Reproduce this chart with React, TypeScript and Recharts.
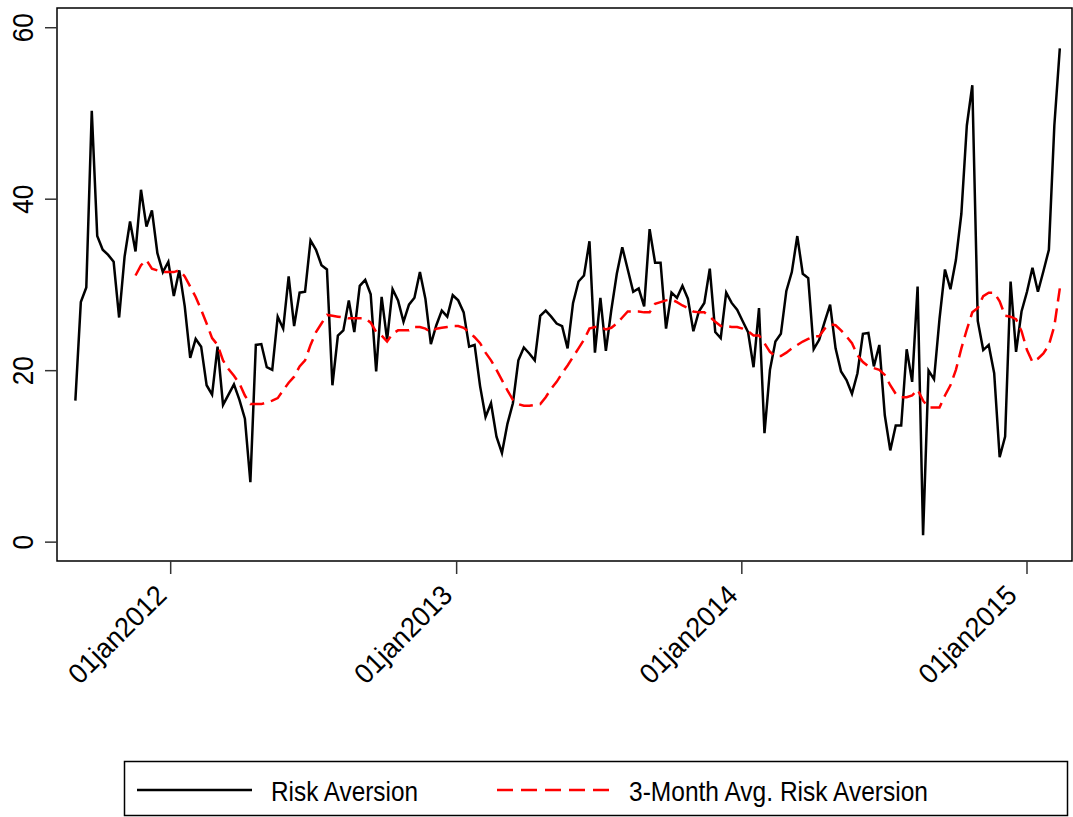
import { LineChart, Line, XAxis, YAxis, ReferenceArea } from 'recharts';

const DAY = 86400000;
const FONT = '"Liberation Sans", Arial, sans-serif';

// weekly observations, first one on 01sep2011
const startDate = Date.UTC(2011, 8, 1);

const riskAversion = [
    16.5, 28.0, 29.7, 50.3, 35.7, 34.1, 33.5, 32.7, 26.2, 33.3,
    37.4, 33.9, 41.1, 36.8, 38.7, 33.7, 31.5, 32.7, 28.7, 31.7,
    27.5, 21.5, 23.7, 22.8, 18.3, 17.2, 22.8, 16.0, 17.2, 18.4,
    16.6, 14.4, 7.0, 23.0, 23.1, 20.4, 20.1, 26.3, 24.9, 31.0,
    25.2, 29.1, 29.2, 35.2, 34.1, 32.3, 31.8, 18.3, 24.1, 24.7,
    28.2, 24.5, 29.9, 30.6, 28.9, 19.9, 28.6, 23.6, 29.5, 28.2,
    25.7, 27.7, 28.5, 31.5, 28.4, 23.1, 25.3, 27.0, 26.3, 28.8,
    28.2, 26.8, 22.8, 23.0, 18.2, 14.6, 16.2, 12.3, 10.4, 13.8,
    16.2, 21.2, 22.7, 22.0, 21.2, 26.4, 27.0, 26.3, 25.5, 25.2,
    22.6, 27.9, 30.4, 31.1, 35.1, 22.1, 28.5, 22.3, 27.1, 31.3,
    34.4, 31.8, 29.2, 29.6, 27.5, 36.5, 32.6, 32.6, 24.9, 29.1,
    28.5, 29.9, 28.4, 24.6, 26.9, 27.9, 31.9, 24.5, 23.8, 29.1,
    27.9, 27.1, 25.8, 24.5, 20.4, 27.3, 12.7, 20.1, 23.4, 24.3,
    29.3, 31.5, 35.7, 31.3, 30.8, 22.5, 23.6, 25.7, 27.7, 22.6,
    19.9, 18.9, 17.3, 19.7, 24.3, 24.4, 20.5, 23.0, 14.8, 10.7,
    13.6, 13.6, 22.5, 18.7, 29.8, 0.8, 20.0, 19.0, 26.0, 31.8,
    29.5, 32.9, 38.3, 48.6, 53.3, 25.8, 22.4, 23.0, 19.7, 9.9,
    12.3, 30.4, 22.2, 26.9, 29.2, 32.0, 29.2, 31.6, 34.1, 48.6,
    57.6,
];

const avgRiskAversion = [
    null, null, null, null, null, null, null, null, null, null,
    null, 31.1, 32.3, 32.9, 31.9, 31.7, 31.5, 31.5, 31.5, 31.7,
    31.0, 29.8, 28.6, 27.1, 25.5, 23.8, 23.0, 21.2, 20.2, 19.4,
    18.5, 17.1, 16.1, 16.1, 16.1, 16.3, 16.5, 16.8, 17.7, 18.6,
    19.3, 20.5, 21.2, 23.0, 24.5, 25.5, 26.5, 26.4, 26.3, 26.2,
    26.1, 26.1, 26.1, 26.1, 25.6, 24.5, 24.1, 23.4, 24.3, 24.7,
    24.7, 24.7, 25.1, 25.1, 24.9, 24.5, 24.9, 25.0, 25.1, 25.2,
    25.2, 25.0, 24.5, 23.9, 23.2, 22.1, 21.2, 20.1, 18.9, 17.7,
    16.6, 16.1, 15.9, 15.9, 16.0, 16.1, 16.9, 17.9, 18.7, 19.7,
    20.6, 21.6, 22.6, 23.6, 24.9, 25.1, 25.1, 24.8, 25.0, 25.5,
    26.2, 26.9, 26.9, 26.9, 26.8, 26.8, 27.8, 28.0, 28.2, 28.3,
    28.0, 27.6, 27.3, 26.9, 26.8, 26.8, 26.3, 25.7, 25.2, 25.2,
    25.1, 25.1, 24.9, 24.6, 24.1, 24.1, 23.2, 22.2, 21.7, 21.7,
    22.1, 22.6, 23.0, 23.4, 23.7, 24.0, 24.0, 24.9, 25.4, 25.3,
    24.7, 24.0, 23.2, 21.8, 21.0, 20.5, 20.3, 20.1, 19.5, 18.3,
    17.3, 16.9, 16.9, 17.1, 17.8, 16.5, 15.7, 15.7, 15.7, 17.1,
    18.3, 20.1, 22.6, 24.8, 26.8, 27.3, 28.7, 29.1, 29.1, 28.1,
    26.4, 26.3, 26.0, 24.6, 22.4, 21.0, 21.4, 22.0, 23.0, 25.2,
    29.6,
];

const tickYears = [2012, 2013, 2014, 2015];
const tickLabels = ['01jan2012', '01jan2013', '01jan2014', '01jan2015'];
const yTicks = [0, 20, 40, 60];

const data = riskAversion.map((v, i) => ({
    date: startDate + i * 7 * DAY,
    risk: v,
    avg: avgRiskAversion[i],
}));

const xTicks = tickYears.map((y) => Date.UTC(y, 0, 1));
const jan2012 = Date.UTC(2012, 0, 1);
const xDomain = [jan2012 - 145.5 * DAY, jan2012 + 1153.6 * DAY];
const yDomain = [-2.2, 62.3];

function XTick({ x, payload }: any) {
    const label = tickLabels[xTicks.indexOf(payload.value)];
    const tx = x - 2.5;
    const ty = 597;
    return (
        <text
            x={tx}
            y={ty}
            transform={`rotate(-45 ${tx} ${ty})`}
            textAnchor="end"
            fontSize={28}
            fontFamily={FONT}
            fill="#000"
            textLength={125}
            lengthAdjust="spacingAndGlyphs"
        >
            {label}
        </text>
    );
}

function YTick({ y, payload }: any) {
    const s = String(payload.value);
    const tx = 33;
    return (
        <text
            x={tx}
            y={y}
            transform={`rotate(-90 ${tx} ${y})`}
            textAnchor="middle"
            fontSize={30}
            fontFamily={FONT}
            fill="#000"
            textLength={14.5 * s.length}
            lengthAdjust="spacingAndGlyphs"
        >
            {s}
        </text>
    );
}

function LegendBox() {
    return (
        <svg
            width={1073}
            height={817}
            style={{ position: 'absolute', left: 0, top: 0, pointerEvents: 'none' }}
        >
            <rect x={124.5} y={761.5} width={943} height={54} fill="none" stroke="#000" strokeWidth={1.5} />
            <line x1={137} y1={790} x2={252} y2={790} stroke="#000" strokeWidth={2.5} />
            <text x={271} y={801} fontSize={28} fontFamily={FONT} textLength={147} lengthAdjust="spacingAndGlyphs">
                Risk Aversion
            </text>
            <line x1={497} y1={790} x2={612} y2={790} stroke="#ff0000" strokeWidth={2.5} strokeDasharray="16 8" />
            <text x={629} y={801} fontSize={28} fontFamily={FONT} textLength={299} lengthAdjust="spacingAndGlyphs">
                3-Month Avg. Risk Aversion
            </text>
        </svg>
    );
}

export default function App() {
    return (
        <div style={{ position: 'absolute', left: 0, top: 0, width: 1073, height: 817, background: '#fff' }}>
            <LineChart
                width={1073}
                height={817}
                data={data}
                margin={{ top: 8, right: 1, bottom: 126, left: 0 }}
            >
                <XAxis
                    dataKey="date"
                    type="number"
                    scale="time"
                    domain={xDomain}
                    ticks={xTicks}
                    tick={<XTick />}
                    tickSize={13}
                    tickLine={{ stroke: '#333', strokeWidth: 1.5 }}
                    axisLine={false}
                    height={130}
                    allowDataOverflow
                />
                <YAxis
                    domain={yDomain}
                    ticks={yTicks}
                    tick={<YTick />}
                    tickSize={12}
                    tickLine={{ stroke: '#333', strokeWidth: 1.5 }}
                    axisLine={false}
                    width={57}
                    allowDataOverflow
                />
                <ReferenceArea
                    x1={xDomain[0]}
                    x2={xDomain[1]}
                    y1={yDomain[0]}
                    y2={yDomain[1]}
                    fill="none"
                    stroke="#000"
                    strokeWidth={1.5}
                />
                <Line
                    type="linear"
                    dataKey="risk"
                    stroke="#000"
                    strokeWidth={2.5}
                    dot={false}
                    isAnimationActive={false}
                />
                <Line
                    type="linear"
                    dataKey="avg"
                    stroke="#ff0000"
                    strokeWidth={2.5}
                    strokeDasharray="14 7"
                    dot={false}
                    isAnimationActive={false}
                />
            </LineChart>
            <LegendBox />
        </div>
    );
}
